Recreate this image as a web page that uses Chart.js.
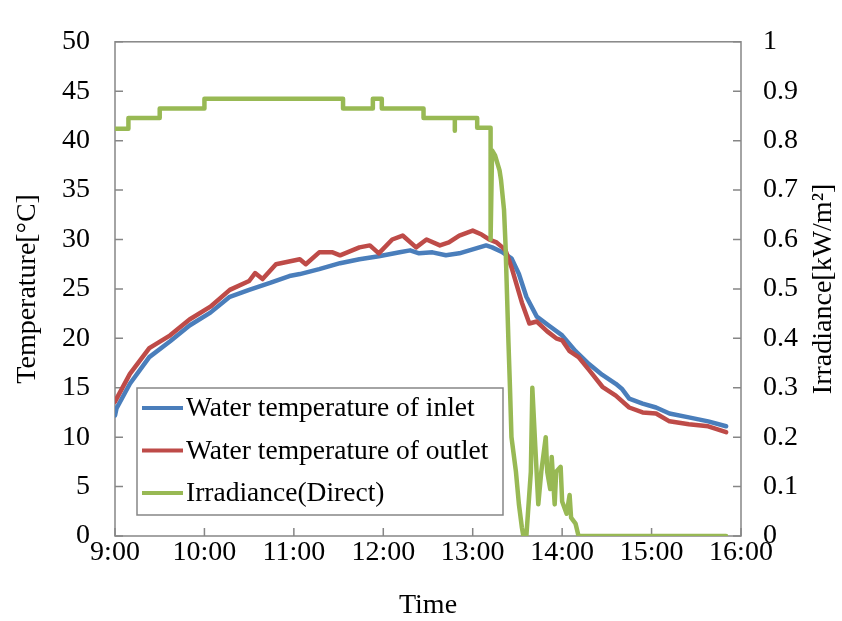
<!DOCTYPE html>
<html>
<head>
<meta charset="utf-8">
<script src="https://cdn.jsdelivr.net/npm/chart.js@4"></script>
<style>
    body { margin: 0; background: #fff; }
</style>
</head>
<body>
<canvas id="temp_chart" width="842" height="621"></canvas>
<script>
// data
const inletTime = ["9:00", "9:01", "9:10", "9:23", "9:37", "9:50", "10:04", "10:17", "10:30", "10:44", "10:57",
    "11:04", "11:17", "11:31", "11:44", "11:57", "12:11", "12:18", "12:24", "12:33", "12:42", "12:51",
    "13:00", "13:09", "13:13", "13:20", "13:26", "13:31", "13:36", "13:43", "13:51", "14:00", "14:09",
    "14:18", "14:27", "14:36", "14:40", "14:45", "14:54", "15:03", "15:12", "15:25", "15:38", "15:50"]
const inletTemp = [12.2, 12.9, 15.4, 18.1, 19.7, 21.3, 22.6, 24.2, 24.9, 25.6, 26.3,
    26.5, 27.0, 27.6, 28.0, 28.3, 28.7, 28.9, 28.6, 28.7, 28.4, 28.6,
    29.0, 29.4, 29.2, 28.7, 28.1, 26.5, 24.2, 22.2, 21.3, 20.3, 18.7,
    17.4, 16.3, 15.4, 14.9, 13.9, 13.4, 13.0, 12.4, 12.0, 11.6, 11.1]

const outletTime = ["9:00", "9:10", "9:23", "9:37", "9:50", "10:04", "10:17", "10:30", "10:34", "10:39", "10:48",
    "11:04", "11:08", "11:17", "11:26", "11:31", "11:44", "11:51", "11:57", "12:06", "12:13", "12:22",
    "12:29", "12:38", "12:44", "12:51", "13:00", "13:06", "13:11", "13:16", "13:20", "13:22", "13:26",
    "13:33", "13:38", "13:43", "13:50", "13:56", "14:00", "14:05", "14:11", "14:18", "14:27", "14:36",
    "14:45", "14:54", "15:03", "15:12", "15:25", "15:38", "15:50"]
const outletTemp = [13.6, 16.4, 19.0, 20.3, 21.9, 23.2, 24.9, 25.8, 26.6, 26.0, 27.5,
    28.0, 27.5, 28.7, 28.7, 28.4, 29.2, 29.4, 28.6, 30.0, 30.4, 29.2,
    30.0, 29.4, 29.7, 30.4, 30.9, 30.5, 30.0, 29.7, 29.2, 28.9, 27.2,
    23.6, 21.5, 21.7, 20.7, 20.0, 19.8, 18.7, 18.1, 16.8, 15.1, 14.2,
    13.0, 12.5, 12.4, 11.6, 11.3, 11.1, 10.5]

const irrTime = ["9:00", "9:09", "9:09", "9:30", "9:30", "10:00", "10:00", "11:33", "11:33", "11:53", "11:53",
    "11:59", "11:59", "12:27", "12:27", "12:48", "12:48", "12:48", "13:03", "13:03", "13:12", "13:12",
    "13:13", "13:15", "13:18", "13:19", "13:21", "13:22", "13:23", "13:24", "13:25", "13:26", "13:29",
    "13:31", "13:33", "13:34", "13:36", "13:39", "13:40", "13:42", "13:44", "13:46", "13:49", "13:50",
    "13:52", "13:53", "13:55", "13:56", "13:59", "14:00", "14:03", "14:05", "14:06", "14:09", "14:11", "15:50"]
const irrValue = [0.824, 0.824, 0.846, 0.846, 0.865, 0.865, 0.885, 0.885, 0.865, 0.865, 0.885,
    0.885, 0.865, 0.865, 0.846, 0.846, 0.82, 0.846, 0.846, 0.826, 0.826, 0.60,
    0.78, 0.77, 0.74, 0.72, 0.66, 0.59, 0.49, 0.39, 0.30, 0.20, 0.13,
    0.064, 0.017, 0, 0, 0.13, 0.30, 0.18, 0.064, 0.13, 0.20, 0.13,
    0.095, 0.16, 0.064, 0.13, 0.14, 0.07, 0.045, 0.083, 0.037, 0.025, 0, 0]

const seriesLabels = ["Water temperature of inlet", "Water temperature of outlet", "Irradiance(Direct)"]
const seriesColors = ["#4a7ebb", "#be4b48", "#98b954"]
const rightTitle = "Irradiance[kW/m²]"

const FONT = "'Liberation Serif', 'Times New Roman', serif"
const AXIS_GRAY = "#868686"

function toMinutes(t) {
    const [h, m] = t.split(":")
    return Number(h) * 60 + Number(m)
}

function toPoints(times, values) {
    return times.map((t, i) => ({ x: toMinutes(t), y: values[i] }))
}

// frame + inward tick marks, like the excel look
const frameTicks = {
    id: "frameTicks",
    beforeDatasetsDraw(chart) {
        const { ctx, chartArea: a, scales } = chart
        ctx.save()
        ctx.strokeStyle = AXIS_GRAY
        ctx.lineWidth = 1.5
        ctx.strokeRect(a.left, a.top, a.right - a.left, a.bottom - a.top)
        ctx.beginPath()
        scales.x.ticks.forEach(t => {
            const px = scales.x.getPixelForValue(t.value)
            ctx.moveTo(px, a.bottom)
            ctx.lineTo(px, a.bottom - 8)
        })
        scales.y.ticks.forEach(t => {
            const py = scales.y.getPixelForValue(t.value)
            ctx.moveTo(a.left, py)
            ctx.lineTo(a.left + 8, py)
        })
        scales.y1.ticks.forEach(t => {
            const py = scales.y1.getPixelForValue(t.value)
            ctx.moveTo(a.right, py)
            ctx.lineTo(a.right - 8, py)
        })
        ctx.stroke()
        ctx.restore()
    },
    // right axis title reads bottom-to-top in the original
    afterDraw(chart) {
        const { ctx, chartArea: a } = chart
        ctx.save()
        ctx.translate(824, (a.top + a.bottom) / 2)
        ctx.rotate(-Math.PI / 2)
        ctx.font = "28px " + FONT
        ctx.fillStyle = "#000"
        ctx.textAlign = "center"
        ctx.textBaseline = "middle"
        ctx.fillText(rightTitle, 0, 0)
        ctx.restore()
    },
}

// legend box sitting inside the plot, bottom left
const boxLegend = {
    id: "boxLegend",
    afterDraw(chart) {
        const { ctx, chartArea: a } = chart
        const left = a.left + 22
        const top = a.bottom - 148
        const w = 366
        const h = 127
        ctx.save()
        ctx.fillStyle = "#fff"
        ctx.fillRect(left, top, w, h)
        ctx.strokeStyle = AXIS_GRAY
        ctx.lineWidth = 1.5
        ctx.strokeRect(left, top, w, h)
        ctx.font = "27.5px " + FONT
        ctx.textBaseline = "middle"
        chart.data.datasets.forEach((ds, i) => {
            const y = top + 20 + i * 42.5
            ctx.strokeStyle = ds.borderColor
            ctx.lineWidth = 4
            ctx.beginPath()
            ctx.moveTo(left + 5, y)
            ctx.lineTo(left + 46, y)
            ctx.stroke()
            ctx.fillStyle = "#000"
            ctx.fillText(ds.label, left + 49, y + 1)
        })
        ctx.restore()
    },
}

function main() {
    Chart.defaults.font.family = FONT
    Chart.defaults.font.size = 28
    Chart.defaults.color = "#000"

    new Chart(document.getElementById("temp_chart"), {
        type: "line",
        data: {
            datasets: [
                {
                    label: seriesLabels[0],
                    data: toPoints(inletTime, inletTemp),
                    borderColor: seriesColors[0],
                    yAxisID: "y",
                    order: 3,
                },
                {
                    label: seriesLabels[1],
                    data: toPoints(outletTime, outletTemp),
                    borderColor: seriesColors[1],
                    yAxisID: "y",
                    order: 2,
                },
                {
                    label: seriesLabels[2],
                    data: toPoints(irrTime, irrValue),
                    borderColor: seriesColors[2],
                    yAxisID: "y1",
                    order: 1,
                },
            ],
        },
        options: {
            responsive: false,
            animation: false,
            layout: { padding: { top: 21 } },
            elements: {
                line: { borderWidth: 4.5, tension: 0, borderCapStyle: "round", borderJoinStyle: "round" },
                point: { radius: 0 },
            },
            scales: {
                x: {
                    type: "linear",
                    min: 540,
                    max: 960,
                    grid: { display: false, drawTicks: false },
                    border: { display: false },
                    ticks: {
                        stepSize: 60,
                        padding: 0,
                        maxRotation: 0,
                        autoSkip: false,
                        callback: v => (v / 60) + ":00",
                    },
                    title: {
                        display: true,
                        text: "Time",
                        font: { size: 28, lineHeight: 1 },
                        padding: { top: 0, bottom: 1 },
                    },
                    afterFit: s => { s.height = 85 },
                },
                y: {
                    position: "left",
                    min: 0,
                    max: 50,
                    grid: { display: false, drawTicks: false },
                    border: { display: false },
                    ticks: { stepSize: 5, padding: 25 },
                    title: {
                        display: true,
                        text: "Temperature[°C]",
                        font: { size: 28, lineHeight: 1 },
                        padding: { top: 14, bottom: 0 },
                    },
                    afterFit: s => { s.width = 115 },
                },
                y1: {
                    position: "right",
                    min: 0,
                    max: 1,
                    grid: { display: false, drawTicks: false },
                    border: { display: false },
                    ticks: {
                        stepSize: 0.1,
                        padding: 22,
                        callback: v => String(Number(v.toFixed(1))),
                    },
                    title: { display: false },
                    afterFit: s => { s.width = 101 },
                },
            },
            plugins: {
                legend: { display: false },
                tooltip: { enabled: false },
            },
        },
        plugins: [frameTicks, boxLegend],
    })
}

document.addEventListener("DOMContentLoaded", main())
</script>
</body>
</html>
